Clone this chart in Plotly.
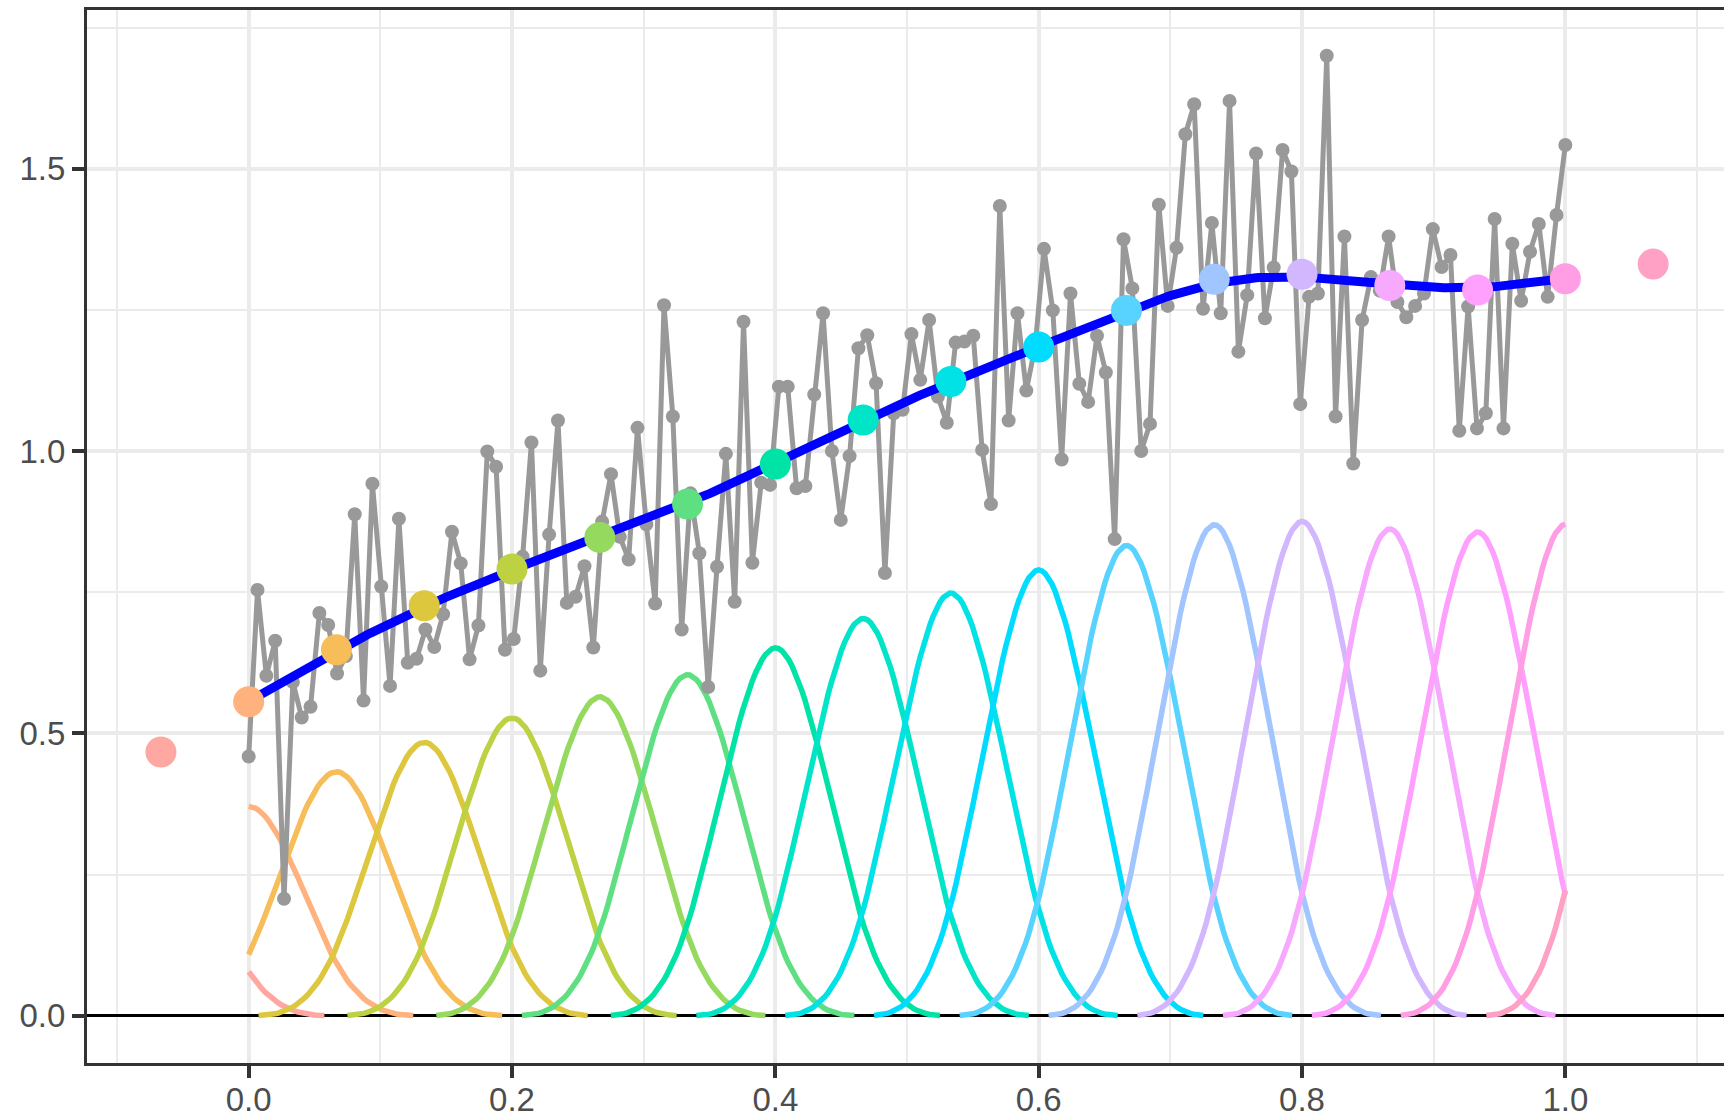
import math
import numpy as np
import plotly.graph_objects as go

# ---------------- data ----------------
n_obs = 150
obs_y = [
    0.459, 0.754, 0.602, 0.664, 0.207, 0.591, 0.528, 0.547, 0.713, 0.692,
    0.606, 0.637, 0.888, 0.558, 0.942, 0.760, 0.584, 0.880, 0.625, 0.632,
    0.684, 0.653, 0.711, 0.857, 0.801, 0.631, 0.691, 0.999, 0.972, 0.648,
    0.667, 0.813, 1.015, 0.611, 0.852, 1.054, 0.731, 0.742, 0.796, 0.652,
    0.875, 0.959, 0.848, 0.808, 1.041, 0.870, 0.730, 1.258, 1.061, 0.684,
    0.925, 0.819, 0.582, 0.795, 0.995, 0.733, 1.229, 0.802, 0.944, 0.940,
    1.114, 1.114, 0.934, 0.938, 1.100, 1.244, 1.000, 0.878, 0.991, 1.182,
    1.205, 1.120, 0.784, 1.067, 1.073, 1.207, 1.126, 1.232, 1.096, 1.050,
    1.192, 1.194, 1.204, 1.002, 0.906, 1.434, 1.054, 1.244, 1.107, 1.185,
    1.358, 1.249, 0.985, 1.279, 1.119, 1.087, 1.204, 1.139, 0.844, 1.375,
    1.288, 1.000, 1.048, 1.436, 1.257, 1.360, 1.561, 1.614, 1.252, 1.404,
    1.244, 1.620, 1.176, 1.276, 1.527, 1.235, 1.325, 1.533, 1.495, 1.083,
    1.273, 1.279, 1.700, 1.061, 1.380, 0.978, 1.232, 1.308, 1.284, 1.380,
    1.264, 1.237, 1.257, 1.279, 1.393, 1.326, 1.347, 1.036, 1.256, 1.040,
    1.067, 1.411, 1.040, 1.367, 1.266, 1.353, 1.402, 1.273, 1.418, 1.542,
]
obs_x = [i / (n_obs - 1) for i in range(n_obs)]

# spline control points (knot centres, spacing 1/15) and coefficients
knot_step = 1.0 / 15.0
knot_x = [(k - 1) * knot_step for k in range(18)]
coefs = [0.467, 0.556, 0.648, 0.726, 0.791, 0.847, 0.906, 0.977, 1.055,
         1.123, 1.184, 1.249, 1.304, 1.313, 1.293, 1.285, 1.305, 1.331]

x_ticks = [0.0, 0.2, 0.4, 0.6, 0.8, 1.0]
x_tick_labels = ["0.0", "0.2", "0.4", "0.6", "0.8", "1.0"]
y_ticks = [0.0, 0.5, 1.0, 1.5]
y_tick_labels = ["0.0", "0.5", "1.0", "1.5"]


# ---------------- helpers ----------------
def hcl_hex(h, c=80.0, l=80.0):
    """R-style hcl() (polar LUV) -> clipped sRGB hex."""
    XN, YN, ZN = 95.047, 100.0, 108.883
    den = XN + 15 * YN + 3 * ZN
    un, vn = 4 * XN / den, 9 * YN / den
    hr = math.radians(h)
    U, V = c * math.cos(hr), c * math.sin(hr)
    Y = YN * (((l + 16) / 116) ** 3 if l > 8 else l / 903.3)
    up = U / (13 * l) + un
    vp = V / (13 * l) + vn
    X = 9.0 * Y * up / (4 * vp)
    Z = -X / 3 - 5 * Y + 3 * Y / vp
    X, Y, Z = X / 100, Y / 100, Z / 100
    r = 3.240479 * X - 1.537150 * Y - 0.498535 * Z
    g = -0.969256 * X + 1.875992 * Y + 0.041556 * Z
    b = 0.055648 * X - 0.204043 * Y + 1.057311 * Z

    def gam(u):
        u = min(max(u, 0.0), 1.0)
        return 12.92 * u if u <= 0.0031308 else 1.055 * u ** (1 / 2.4) - 0.055

    return "#%02X%02X%02X" % tuple(int(round(255 * gam(u))) for u in (r, g, b))


def cubic_bspline(t):
    t = np.abs(t)
    out = np.zeros_like(t)
    m1 = t < 1
    m2 = (t >= 1) & (t < 2)
    out[m1] = 2.0 / 3.0 - t[m1] ** 2 + 0.5 * t[m1] ** 3
    out[m2] = (2 - t[m2]) ** 3 / 6.0
    return out


n_basis = len(knot_x)
colors = [hcl_hex(15 + 360.0 * k / n_basis) for k in range(n_basis)]

grid = np.linspace(0, 1, 401)

fig = go.Figure()

# scaled basis functions
spline = np.zeros_like(grid)
for k in range(n_basis):
    b = cubic_bspline((grid - knot_x[k]) / knot_step) * coefs[k]
    spline += b
    keep = b > 1.5e-4
    fig.add_trace(go.Scatter(
        x=grid[keep], y=b[keep], mode="lines",
        line=dict(color=colors[k], width=5.5),
        showlegend=False, hoverinfo="skip"))

# noisy observations
fig.add_trace(go.Scatter(
    x=obs_x, y=obs_y, mode="lines+markers",
    line=dict(color="#999999", width=5),
    marker=dict(color="#999999", size=14),
    showlegend=False))

# fitted spline
fig.add_trace(go.Scatter(
    x=grid, y=spline, mode="lines",
    line=dict(color="#0000FF", width=9),
    showlegend=False))

# coefficients
fig.add_trace(go.Scatter(
    x=knot_x, y=coefs, mode="markers",
    marker=dict(color=colors, size=31, line=dict(width=0)),
    showlegend=False))

grid_col = "#EBEBEB"
axis_col = "#333333"
font = dict(family="Liberation Sans, Arial, sans-serif", size=33, color="#4D4D4D")

fig.update_layout(
    width=1724, height=1118,
    margin=dict(l=87, r=0, t=10, b=55, autoexpand=False),
    paper_bgcolor="white", plot_bgcolor="white",
    font=font,
    xaxis=dict(
        range=[-0.1228, 1.1205], automargin=False,
        tickvals=x_ticks, ticktext=x_tick_labels,
        showgrid=True, gridcolor=grid_col, gridwidth=3.5,
        minor=dict(dtick=0.1, tick0=0.0, showgrid=True, gridcolor=grid_col,
                   gridwidth=2, ticks=""),
        zeroline=False,
        showline=True, linecolor=axis_col, linewidth=3, mirror=True,
        ticks="outside", ticklen=12, tickwidth=3.5, tickcolor=axis_col,
        tickfont=font, ticklabelstandoff=-7,
    ),
    yaxis=dict(
        range=[-0.0838, 1.781], automargin=False,
        tickvals=y_ticks, ticktext=y_tick_labels,
        showgrid=True, gridcolor=grid_col, gridwidth=3.5,
        minor=dict(dtick=0.25, tick0=0.0, showgrid=True, gridcolor=grid_col,
                   gridwidth=2, ticks=""),
        zeroline=True, zerolinecolor="black", zerolinewidth=2.6,
        showline=True, linecolor=axis_col, linewidth=3, mirror=False,
        ticks="outside", ticklen=12, tickwidth=3.5, tickcolor=axis_col,
        tickfont=font,
    ),
)

fig.write_html("out.html")
